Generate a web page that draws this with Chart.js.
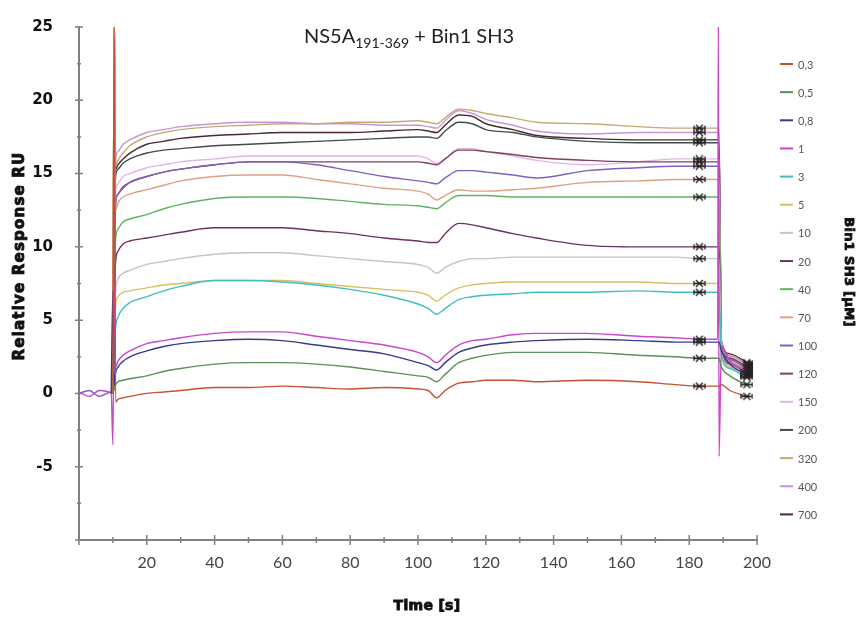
<!DOCTYPE html>
<html>
<head>
<meta charset="utf-8">
<script src="https://cdn.jsdelivr.net/npm/chart.js@4.4.1/dist/chart.umd.min.js"></script>
<style>
  body { margin: 0; background: #fff; }
</style>
</head>
<body>
<canvas id="spr" width="861" height="619"></canvas>
<script>
// time points (s) shared by all sensorgrams
const times = [0, 3, 6, 9.5, 10, 10.4, 10.8, 11.5, 13, 15, 20, 25, 30, 40, 50, 60, 70, 80, 90, 100,
  103, 105.5, 108, 112, 116, 120, 128, 135, 150, 165, 176, 183, 188.4, 188.6, 188.8, 189.5, 192, 197];

const concLabels = ["0,3", "0,5", "0,8", "1", "3", "5", "10", "20", "40", "70", "100", "120", "150", "200", "320", "400", "700"];

const ru_0_3 = [null, null, null, null, 0.0, 26, -0.6, -0.4, -0.3, -0.2, 0.0, 0.1, 0.2, 0.4, 0.4, 0.5, 0.4, 0.3, 0.4, 0.3,
  0.2, -0.3, 0.2, 0.7, 0.8, 0.9, 0.9, 0.8, 0.9, 0.8, 0.6, 0.5, 0.5, 0.5, 0.5, 0.6, 0.2, -0.2];
const ru_0_5 = [null, null, null, null, 0.0, 0.3, 0.6, 0.8, 0.9, 1.0, 1.2, 1.5, 1.7, 2.0, 2.1, 2.1, 2.0, 1.8, 1.5, 1.2,
  1.1, 0.8, 1.3, 2.1, 2.4, 2.6, 2.8, 2.8, 2.8, 2.6, 2.5, 2.4, 2.4, 2.4, 2.4, 1.8, 1.2, 0.6];
const ru_0_8 = [null, null, null, 0.0, 7.0, 0.5, 1.4, 1.8, 2.2, 2.5, 2.9, 3.2, 3.4, 3.6, 3.7, 3.6, 3.3, 3.0, 2.7, 2.1,
  1.9, 1.6, 2.1, 2.8, 3.1, 3.3, 3.5, 3.6, 3.7, 3.6, 3.5, 3.5, 3.5, 3.5, 3.5, 2.9, 2.0, 1.3];
const ru_1 = [0.1, -0.2, 0.2, 0.0, -3.5, 8.0, 1.8, 2.2, 2.6, 2.9, 3.4, 3.6, 3.8, 4.1, 4.2, 4.2, 3.9, 3.6, 3.3, 2.8,
  2.5, 2.1, 2.6, 3.3, 3.6, 3.7, 4.0, 4.1, 4.1, 3.9, 3.8, 3.7, 3.7, 26, -4.3, 3.2, 2.2, 1.5];
const ru_3 = [null, null, null, null, 0.0, 3.0, 4.5, 5.2, 5.8, 6.2, 6.6, 7.0, 7.3, 7.7, 7.7, 7.6, 7.4, 7.1, 6.7, 6.1,
  5.8, 5.4, 5.8, 6.4, 6.6, 6.7, 6.8, 6.9, 6.9, 7.0, 6.9, 6.9, 6.9, 6.9, 6.9, 2.6, 1.7, 1.1];
const ru_5 = [null, null, null, null, 0.0, 4.0, 6.0, 6.6, 6.9, 7.0, 7.2, 7.4, 7.5, 7.7, 7.7, 7.7, 7.5, 7.3, 7.1, 6.9,
  6.7, 6.3, 6.7, 7.2, 7.4, 7.5, 7.6, 7.6, 7.6, 7.6, 7.5, 7.5, 7.5, 7.5, 7.5, 2.7, 1.8, 1.2];
const ru_10 = [null, null, null, null, 0.0, 5.0, 7.0, 7.8, 8.2, 8.4, 8.8, 9.0, 9.2, 9.5, 9.6, 9.6, 9.4, 9.2, 9.0, 8.8,
  8.6, 8.2, 8.6, 9.0, 9.2, 9.2, 9.3, 9.3, 9.3, 9.3, 9.3, 9.2, 9.2, 9.2, 9.2, 2.8, 1.9, 1.3];
const ru_20 = [null, null, null, null, 0.0, 6.0, 9.0, 9.7, 10.2, 10.4, 10.6, 10.8, 11.0, 11.3, 11.3, 11.3, 11.1, 10.9, 10.6, 10.4,
  10.3, 10.3, 10.9, 11.6, 11.5, 11.3, 10.9, 10.6, 10.1, 10.0, 10.0, 10.0, 10.0, 10.0, 10.0, 2.9, 2.0, 1.4];
const ru_40 = [null, null, null, null, 0.0, 7.0, 10.5, 11.2, 11.7, 11.9, 12.2, 12.6, 12.9, 13.3, 13.4, 13.4, 13.3, 13.1, 12.9, 12.8,
  12.7, 12.6, 13.0, 13.5, 13.5, 13.5, 13.4, 13.4, 13.4, 13.4, 13.4, 13.4, 13.4, 13.4, 13.4, 3.0, 2.1, 1.5];
const ru_70 = [null, null, null, null, 0.0, 26, 12.5, 13.0, 13.4, 13.6, 13.9, 14.2, 14.5, 14.8, 14.9, 14.9, 14.6, 14.3, 14.0, 13.8,
  13.6, 13.2, 13.5, 13.9, 13.8, 13.8, 13.9, 14.0, 14.4, 14.5, 14.6, 14.6, 14.6, 14.6, 14.6, 3.1, 2.2, 1.6];
const ru_100 = [0.0, 0.2, -0.2, 0.1, 0.0, 9.0, 13.0, 13.6, 14.0, 14.4, 14.8, 15.1, 15.3, 15.6, 15.8, 15.8, 15.6, 15.2, 14.8, 14.5,
  14.4, 14.3, 14.7, 15.2, 15.2, 15.1, 14.9, 14.7, 15.2, 15.4, 15.5, 15.5, 15.5, 15.5, 15.5, 3.2, 2.3, 1.7];
const ru_120 = [null, null, null, null, 0.0, 9.0, 13.0, 13.6, 14.1, 14.4, 14.8, 15.1, 15.3, 15.6, 15.8, 15.8, 15.8, 15.8, 15.8, 15.8,
  15.7, 15.6, 16.0, 16.6, 16.6, 16.5, 16.3, 16.1, 15.9, 15.8, 15.8, 15.8, 15.8, 15.8, 15.8, 3.3, 2.4, 1.8];
const ru_150 = [null, null, null, null, 0.0, 10.0, 13.8, 14.3, 14.8, 15.0, 15.4, 15.6, 15.8, 16.0, 16.2, 16.2, 16.2, 16.2, 16.2, 16.2,
  16.0, 15.7, 16.0, 16.7, 16.7, 16.5, 16.2, 15.9, 15.6, 15.8, 16.0, 16.0, 16.0, 16.0, 16.0, 3.4, 2.5, 1.9];
const ru_200 = [null, null, null, null, 0.0, 11.0, 14.8, 15.3, 15.7, 16.0, 16.4, 16.6, 16.7, 16.9, 17.0, 17.1, 17.2, 17.3, 17.4, 17.5,
  17.5, 17.4, 17.9, 18.5, 18.4, 18.0, 17.8, 17.5, 17.2, 17.1, 17.1, 17.1, 17.1, 17.1, 17.1, 3.4, 2.5, 1.9];
const ru_320 = [null, null, null, null, 0.0, 26, 15.5, 15.9, 16.4, 16.9, 17.5, 17.8, 18.0, 18.2, 18.3, 18.4, 18.4, 18.5, 18.5, 18.6,
  18.5, 18.4, 18.8, 19.4, 19.3, 19.1, 18.8, 18.5, 18.4, 18.2, 18.1, 18.1, 18.1, 18.1, 18.1, 3.5, 2.6, 2.0];
const ru_400 = [null, null, null, null, 0.0, 12.0, 16.0, 16.5, 17.0, 17.3, 17.8, 18.0, 18.2, 18.4, 18.5, 18.5, 18.4, 18.4, 18.3, 18.3,
  18.2, 18.1, 18.6, 19.3, 19.1, 18.7, 18.3, 17.9, 17.7, 17.8, 17.8, 17.8, 17.8, 17.8, 17.8, 3.5, 2.6, 2.0];
const ru_700 = [null, null, null, null, 0.0, 26, 15.3, 15.6, 16.0, 16.4, 17.0, 17.2, 17.4, 17.6, 17.7, 17.8, 17.8, 17.8, 17.9, 18.0,
  17.9, 17.8, 18.3, 19.0, 18.9, 18.4, 18.0, 17.6, 17.4, 17.3, 17.3, 17.3, 17.3, 17.3, 17.3, 3.6, 2.7, 2.1];

const allSeries = [ru_0_3, ru_0_5, ru_0_8, ru_1, ru_3, ru_5, ru_10, ru_20, ru_40, ru_70,
  ru_100, ru_120, ru_150, ru_200, ru_320, ru_400, ru_700];

const colors = ["#c8502f", "#5b8f5b", "#3a3a8c", "#cc44cc", "#3fbfbf", "#d8c060", "#c4c4c4", "#6e2f66", "#5fb35f",
  "#e0a080", "#7f5fc0", "#80405e", "#e4b4e8", "#3f4d4d", "#c8a870", "#c496d8", "#4a2a2a"];

const markerIdx = [31, 37];

// little "|X|" report-point marker
const marker = document.createElement("canvas");
marker.width = 13; marker.height = 9;
(function () {
  const m = marker.getContext("2d");
  m.strokeStyle = "#222"; m.lineWidth = 1.3;
  m.beginPath();
  m.moveTo(3, 1); m.lineTo(10, 8);
  m.moveTo(10, 1); m.lineTo(3, 8);
  m.moveTo(1, 2); m.lineTo(1, 7);
  m.moveTo(12, 2); m.lineTo(12, 7);
  m.moveTo(1, 4.5); m.lineTo(12, 4.5);
  m.stroke();
})();

const datasets = allSeries.map((vals, i) => ({
  label: concLabels[i],
  data: times.map((t, j) => ({ x: t, y: vals[j] })),
  borderColor: colors[i],
  backgroundColor: colors[i],
  borderWidth: 1.4,
  cubicInterpolationMode: "monotone",
  pointStyle: marker,
  pointRadius: c => markerIdx.includes(c.dataIndex) ? 4 : 0,
  pointHitRadius: 0
}));

// heavy black label (fill + thin stroke to thicken the glyphs)
function heavyText(ctx, text, x, y, rot, font, spacing) {
  ctx.save();
  ctx.translate(x, y);
  ctx.rotate(rot);
  ctx.font = font;
  ctx.letterSpacing = spacing;
  ctx.fillStyle = "#111";
  ctx.strokeStyle = "#111";
  ctx.lineWidth = 0.9;
  ctx.textAlign = "center";
  ctx.textBaseline = "middle";
  ctx.fillText(text, 0, 0);
  ctx.strokeText(text, 0, 0);
  ctx.restore();
}

const decorations = {
  id: "decorations",
  afterDraw(chart) {
    const ctx = chart.ctx;
    const xs = chart.scales.x, ys = chart.scales.y;
    ctx.save();

    // ticks crossing the axes
    ctx.strokeStyle = "#808080";
    ctx.lineWidth = 1.5;
    ctx.beginPath();
    xs.ticks.forEach(t => {
      const px = xs.getPixelForValue(t.value);
      const h = t.value % 20 === 0 ? 5 : 3;
      ctx.moveTo(px, xs.top - h); ctx.lineTo(px, xs.top + h);
    });
    ys.ticks.forEach(t => {
      const py = ys.getPixelForValue(t.value);
      const h = t.value % 5 === 0 ? 4 : 2;
      ctx.moveTo(ys.right - h, py); ctx.lineTo(ys.right + h, py);
    });
    ctx.stroke();

    // title with subscript
    ctx.fillStyle = "#222";
    ctx.textBaseline = "alphabetic";
    ctx.textAlign = "left";
    const big = "20px Lato", small = "14px Lato";
    ctx.font = big;
    const w1 = ctx.measureText("NS5A").width;
    const w3 = ctx.measureText(" + Bin1 SH3").width;
    ctx.font = small;
    const w2 = ctx.measureText("191-369").width;
    let x0 = 409 - (w1 + w2 + w3) / 2;
    ctx.font = big; ctx.fillText("NS5A", x0, 43);
    ctx.font = small; ctx.fillText("191-369", x0 + w1, 48);
    ctx.font = big; ctx.fillText(" + Bin1 SH3", x0 + w1 + w2, 43);

    // axis titles
    heavyText(ctx, "Time [s]", 427, 606, 0, "bold 14px 'DejaVu Sans'", "0.3px");
    heavyText(ctx, "Relative Response RU", 20, 256, -Math.PI / 2, "bold 15px 'DejaVu Sans'", "1.2px");
    heavyText(ctx, "Bin1 SH3 [\u00b5M]", 848, 272, Math.PI / 2, "bold 13px 'DejaVu Sans'", "0.3px");

    // legend
    ctx.textAlign = "left";
    ctx.textBaseline = "middle";
    ctx.font = "11px Lato";
    chart.data.datasets.forEach((ds, i) => {
      const y = 64 + 28.15 * i;
      ctx.strokeStyle = ds.borderColor;
      ctx.lineWidth = 2;
      ctx.beginPath(); ctx.moveTo(780, y); ctx.lineTo(793, y); ctx.stroke();
      ctx.fillStyle = "#555";
      ctx.fillText(ds.label, 798, y + 1);
    });
    ctx.restore();
  }
};

new Chart(document.getElementById("spr"), {
  type: "line",
  data: { datasets },
  options: {
    responsive: false,
    animation: false,
    layout: { padding: { top: 27, right: 104, bottom: 0, left: 0 } },
    plugins: { legend: { display: false }, tooltip: { enabled: false } },
    scales: {
      x: {
        type: "linear", min: 0, max: 200,
        afterFit: s => { s.height = 79; },
        grid: { display: false },
        border: { color: "#808080", width: 2 },
        ticks: {
          stepSize: 10, autoSkip: false, maxRotation: 0, padding: 5, color: "#444",
          font: { family: "Lato", size: 16 },
          callback: v => (v % 20 === 0 && v > 0) ? v : ""
        }
      },
      y: {
        min: -10, max: 25,
        afterFit: s => { s.width = 79; },
        grid: { display: false },
        border: { color: "#808080", width: 2 },
        ticks: {
          stepSize: 2.5, autoSkip: false, padding: 18, color: "#111",
          font: { family: "DejaVu Sans", weight: "bold", size: 15 },
          callback: v => (v % 5 === 0 && v > -10) ? v : ""
        }
      }
    }
  },
  plugins: [decorations]
});
</script>
</body>
</html>
